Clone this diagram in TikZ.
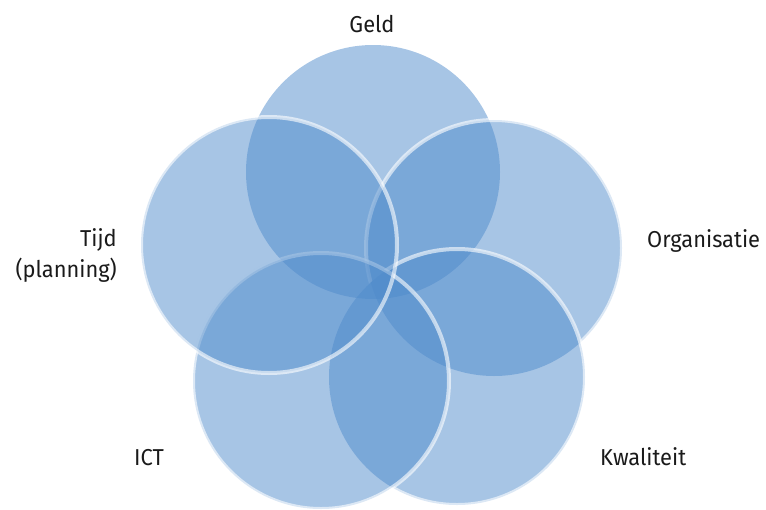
\documentclass[tikz,border=0pt]{standalone}
\usepackage{fontspec}
\setmainfont{Fira Sans}[FakeStretch=0.95]
\definecolor{petalblue}{RGB}{79,139,203}
\definecolor{labelgray}{RGB}{26,26,26}
\begin{document}
\begin{tikzpicture}[x=1pt,y=-1pt,
  petal/.style={fill=petalblue, fill opacity=0.5},
  rim/.style={draw=white, draw opacity=0.6, line width=4pt},
  lbl/.style={inner sep=0pt, text=labelgray, font=\fontsize{23}{31}\selectfont}]
\useasboundingbox (0,0) rectangle (766,509);

% centres of the five circles
\coordinate (geld) at (373,172);
\coordinate (org)  at (494,248);
\coordinate (kwal) at (457,377);
\coordinate (ict)  at (321,381);
\coordinate (tijd) at (269,245);

% Geld (bottom layer)
\fill[petal] (geld) circle[radius=127pt];

% Organisatie
\fill[petal] (org) circle[radius=128pt];
\begin{scope}[even odd rule]
  \clip (-10,-10) rectangle (776,519) (kwal) circle[radius=128pt];
  \draw[rim] (org) circle[radius=128pt];
\end{scope}

% Kwaliteit
\fill[petal] (kwal) circle[radius=128pt];
\begin{scope}[even odd rule]
  \clip (-10,-10) rectangle (776,519) (ict) circle[radius=128pt];
  \draw[rim] (kwal) circle[radius=128pt];
\end{scope}

% ICT
\fill[petal] (ict) circle[radius=128pt];
\draw[rim] (ict) circle[radius=128pt];

% Tijd (top layer)
\fill[petal] (tijd) circle[radius=128pt];
\draw[rim] (tijd) circle[radius=128pt];

% labels
\node[lbl, anchor=base] (lgeld) at (372,32) {Geld};
\node[lbl, anchor=east, align=right] (ltijd) at (117,255) {Tijd\\(planning)};
\node[lbl, anchor=base west] (lorg) at (647,247) {Organisatie};
\node[lbl, anchor=base] (lict) at (149,465) {ICT};
\node[lbl, anchor=base west] (lkwal) at (600,465) {Kwaliteit};
\end{tikzpicture}
\end{document}
